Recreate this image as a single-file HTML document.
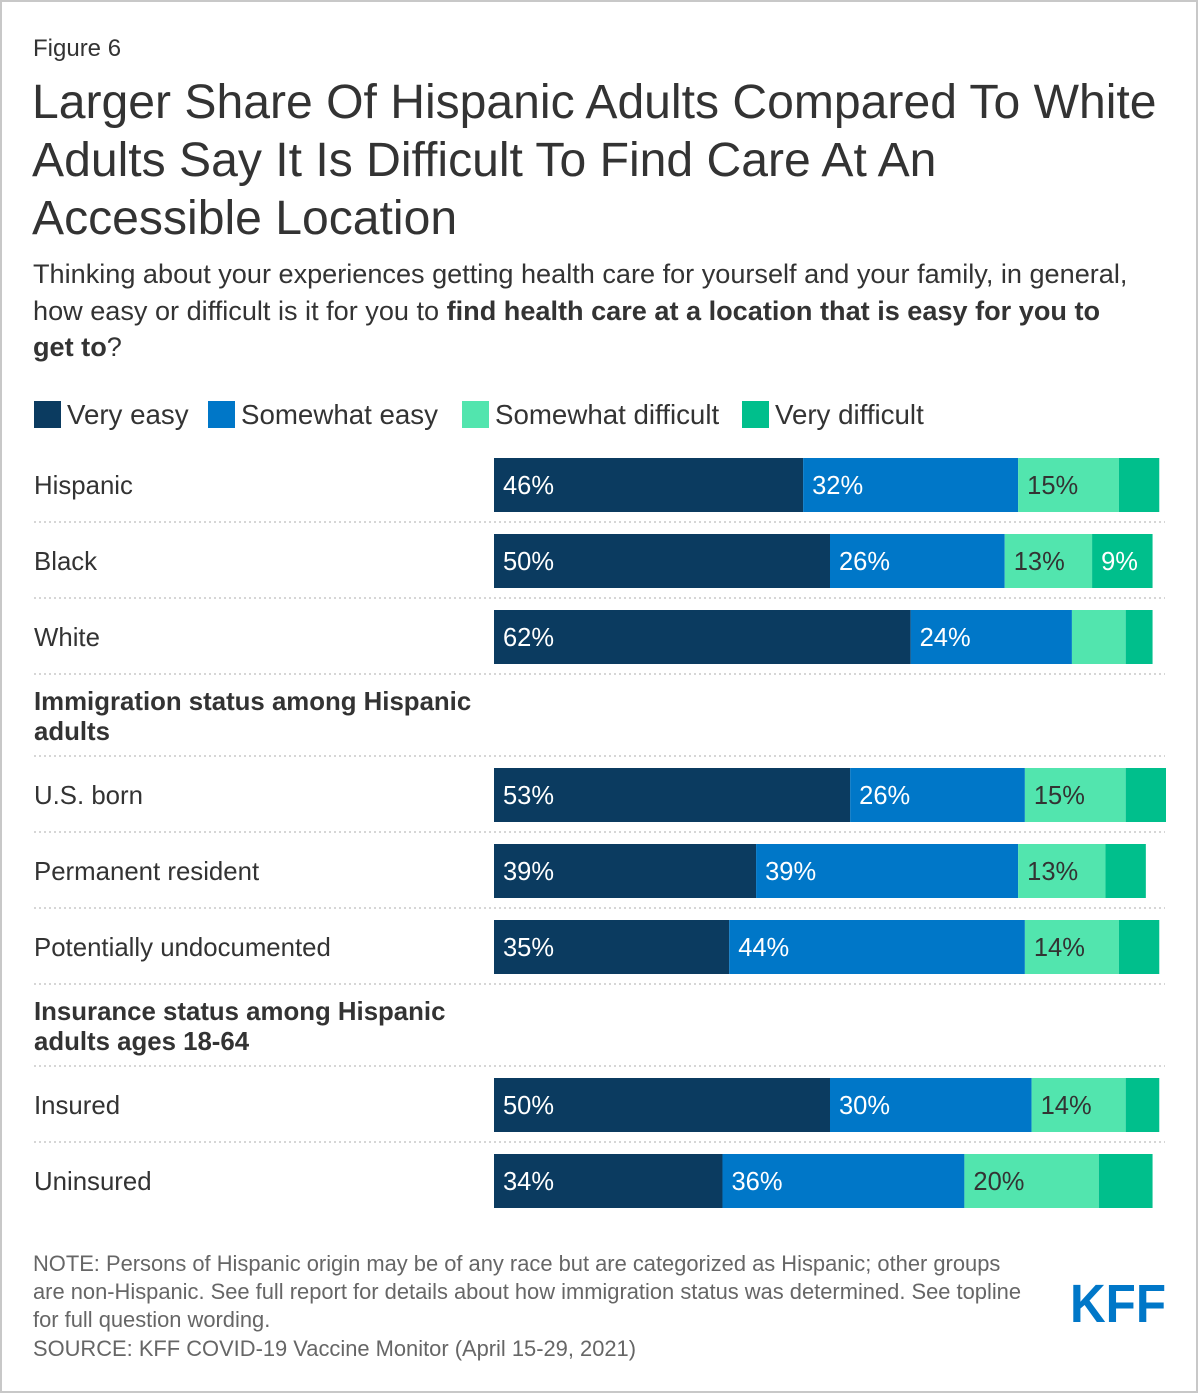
<!DOCTYPE html>
<html><head><meta charset="utf-8"><style>
html,body{margin:0;padding:0;background:#fff}
body{width:1200px;height:1394px;overflow:hidden;font-family:"Liberation Sans",Arial,sans-serif}
svg text{font-family:"Liberation Sans",Arial,sans-serif}
</style></head><body>
<svg id="chart" width="1200" height="1394" viewBox="0 0 1200 1394" xmlns="http://www.w3.org/2000/svg">
<rect x="1" y="1" width="1196" height="1391" fill="#fff" stroke="#c8c8c8" stroke-width="2"/>
<text x="33" y="56" font-size="24" fill="#333">Figure 6</text>
<g font-size="48.1" fill="#333">
<text x="32" y="118">Larger Share Of Hispanic Adults Compared To White</text>
<text x="32" y="176">Adults Say It Is Difficult To Find Care At An</text>
<text x="32" y="234">Accessible Location</text>
</g>
<g font-size="27.1" fill="#333">
<text x="33" y="283">Thinking about your experiences getting health care for yourself and your family, in general,</text>
<text x="33" y="320">how easy or difficult is it for you to <tspan font-weight="bold">find health care at a location that is easy for you to</tspan></text>
<text x="33" y="356"><tspan font-weight="bold">get to</tspan>?</text>
</g>
<g id="legend" font-size="27.7" fill="#333"></g>
<g id="rows"></g>
<g font-size="21.9" fill="#666">
<text x="33" y="1271">NOTE: Persons of Hispanic origin may be of any race but are categorized as Hispanic; other groups</text>
<text x="33" y="1299">are non-Hispanic. See full report for details about how immigration status was determined. See topline</text>
<text x="33" y="1327">for full question wording.</text>
<text x="33" y="1356">SOURCE: KFF COVID-19 Vaccine Monitor (April 15-29, 2021)</text>
</g>
<text x="1070" y="1322" font-size="54" font-weight="bold" fill="#0077c8" textLength="96" lengthAdjust="spacingAndGlyphs">KFF</text>
</svg>
<script>
const categories = ["Hispanic","Black","White","U.S. born","Permanent resident","Potentially undocumented","Insured","Uninsured"];
const veryEasy = [46,50,62,53,39,35,50,34];
const somewhatEasy = [32,26,24,26,39,44,30,36];
const somewhatDifficult = [15,13,8,15,13,14,14,20];
const veryDifficult = [6,9,4,6,6,6,5,8];
const seriesNames = ["Very easy","Somewhat easy","Somewhat difficult","Very difficult"];
const NS="http://www.w3.org/2000/svg";
const colors=["#0b3b60","#0077c8","#52e5ae","#00bf8c"];
const textColors=["#fff","#fff","#333","#fff"];
const rowCenters=[485,561,637,795,871,947,1105,1181];
const seps=[522,598,674,756,832,908,984,1066,1142];
const x0=494, pxPer=6.72, barH=54;
function xs(v){return x0+v*pxPer;}
function mk(tag,attrs,parent){const e=document.createElementNS(NS,tag);for(const k in attrs)e.setAttribute(k,attrs[k]);parent.appendChild(e);return e;}
const legend=document.getElementById('legend');
const legX=[34,208,462,742];
seriesNames.forEach((n,i)=>{
  const r=mk('rect',{x:legX[i],y:401,width:27,height:27,fill:colors[i]},legend);
  
  
  const t=mk('text',{x:legX[i]+33,y:424},legend);
  
  
  t.textContent=n;
});
const rows=document.getElementById('rows');
seps.forEach(y=>{
  const l=mk('line',{x1:34,x2:1165,y1:y,y2:y,stroke:"#d6d6d6","stroke-width":2,"stroke-dasharray":"2,3"},rows);
  
  
});
[["Immigration status among Hispanic",710],["adults",740],["Insurance status among Hispanic",1020],["adults ages 18-64",1050]].forEach(([s,y])=>{
  const t=mk('text',{x:34,y:y,"font-size":25.8,"font-weight":"bold",fill:"#333"},rows);
  
  
  t.textContent=s;
});
const series=[veryEasy,somewhatEasy,somewhatDifficult,veryDifficult];
categories.forEach((c,ri)=>{
  const cy=rowCenters[ri];
  const lab=mk('text',{x:34,y:cy+9,"font-size":25.8,fill:"#333"},rows);
  
  
  lab.textContent=c;
  let cum=0;
  series.forEach((s,si)=>{
    const v=s[ri];
    const r=mk('rect',{x:xs(cum),y:cy-barH/2,width:v*pxPer,height:barH,fill:colors[si]},rows);
    
    
    if(v>=9){
      const t=mk('text',{x:xs(cum)+9,y:cy+9,"font-size":25.5,fill:textColors[si]},rows);
      
      
      t.textContent=v+'%';
    }
    cum+=v;
  });
});
</script>
</body></html>
